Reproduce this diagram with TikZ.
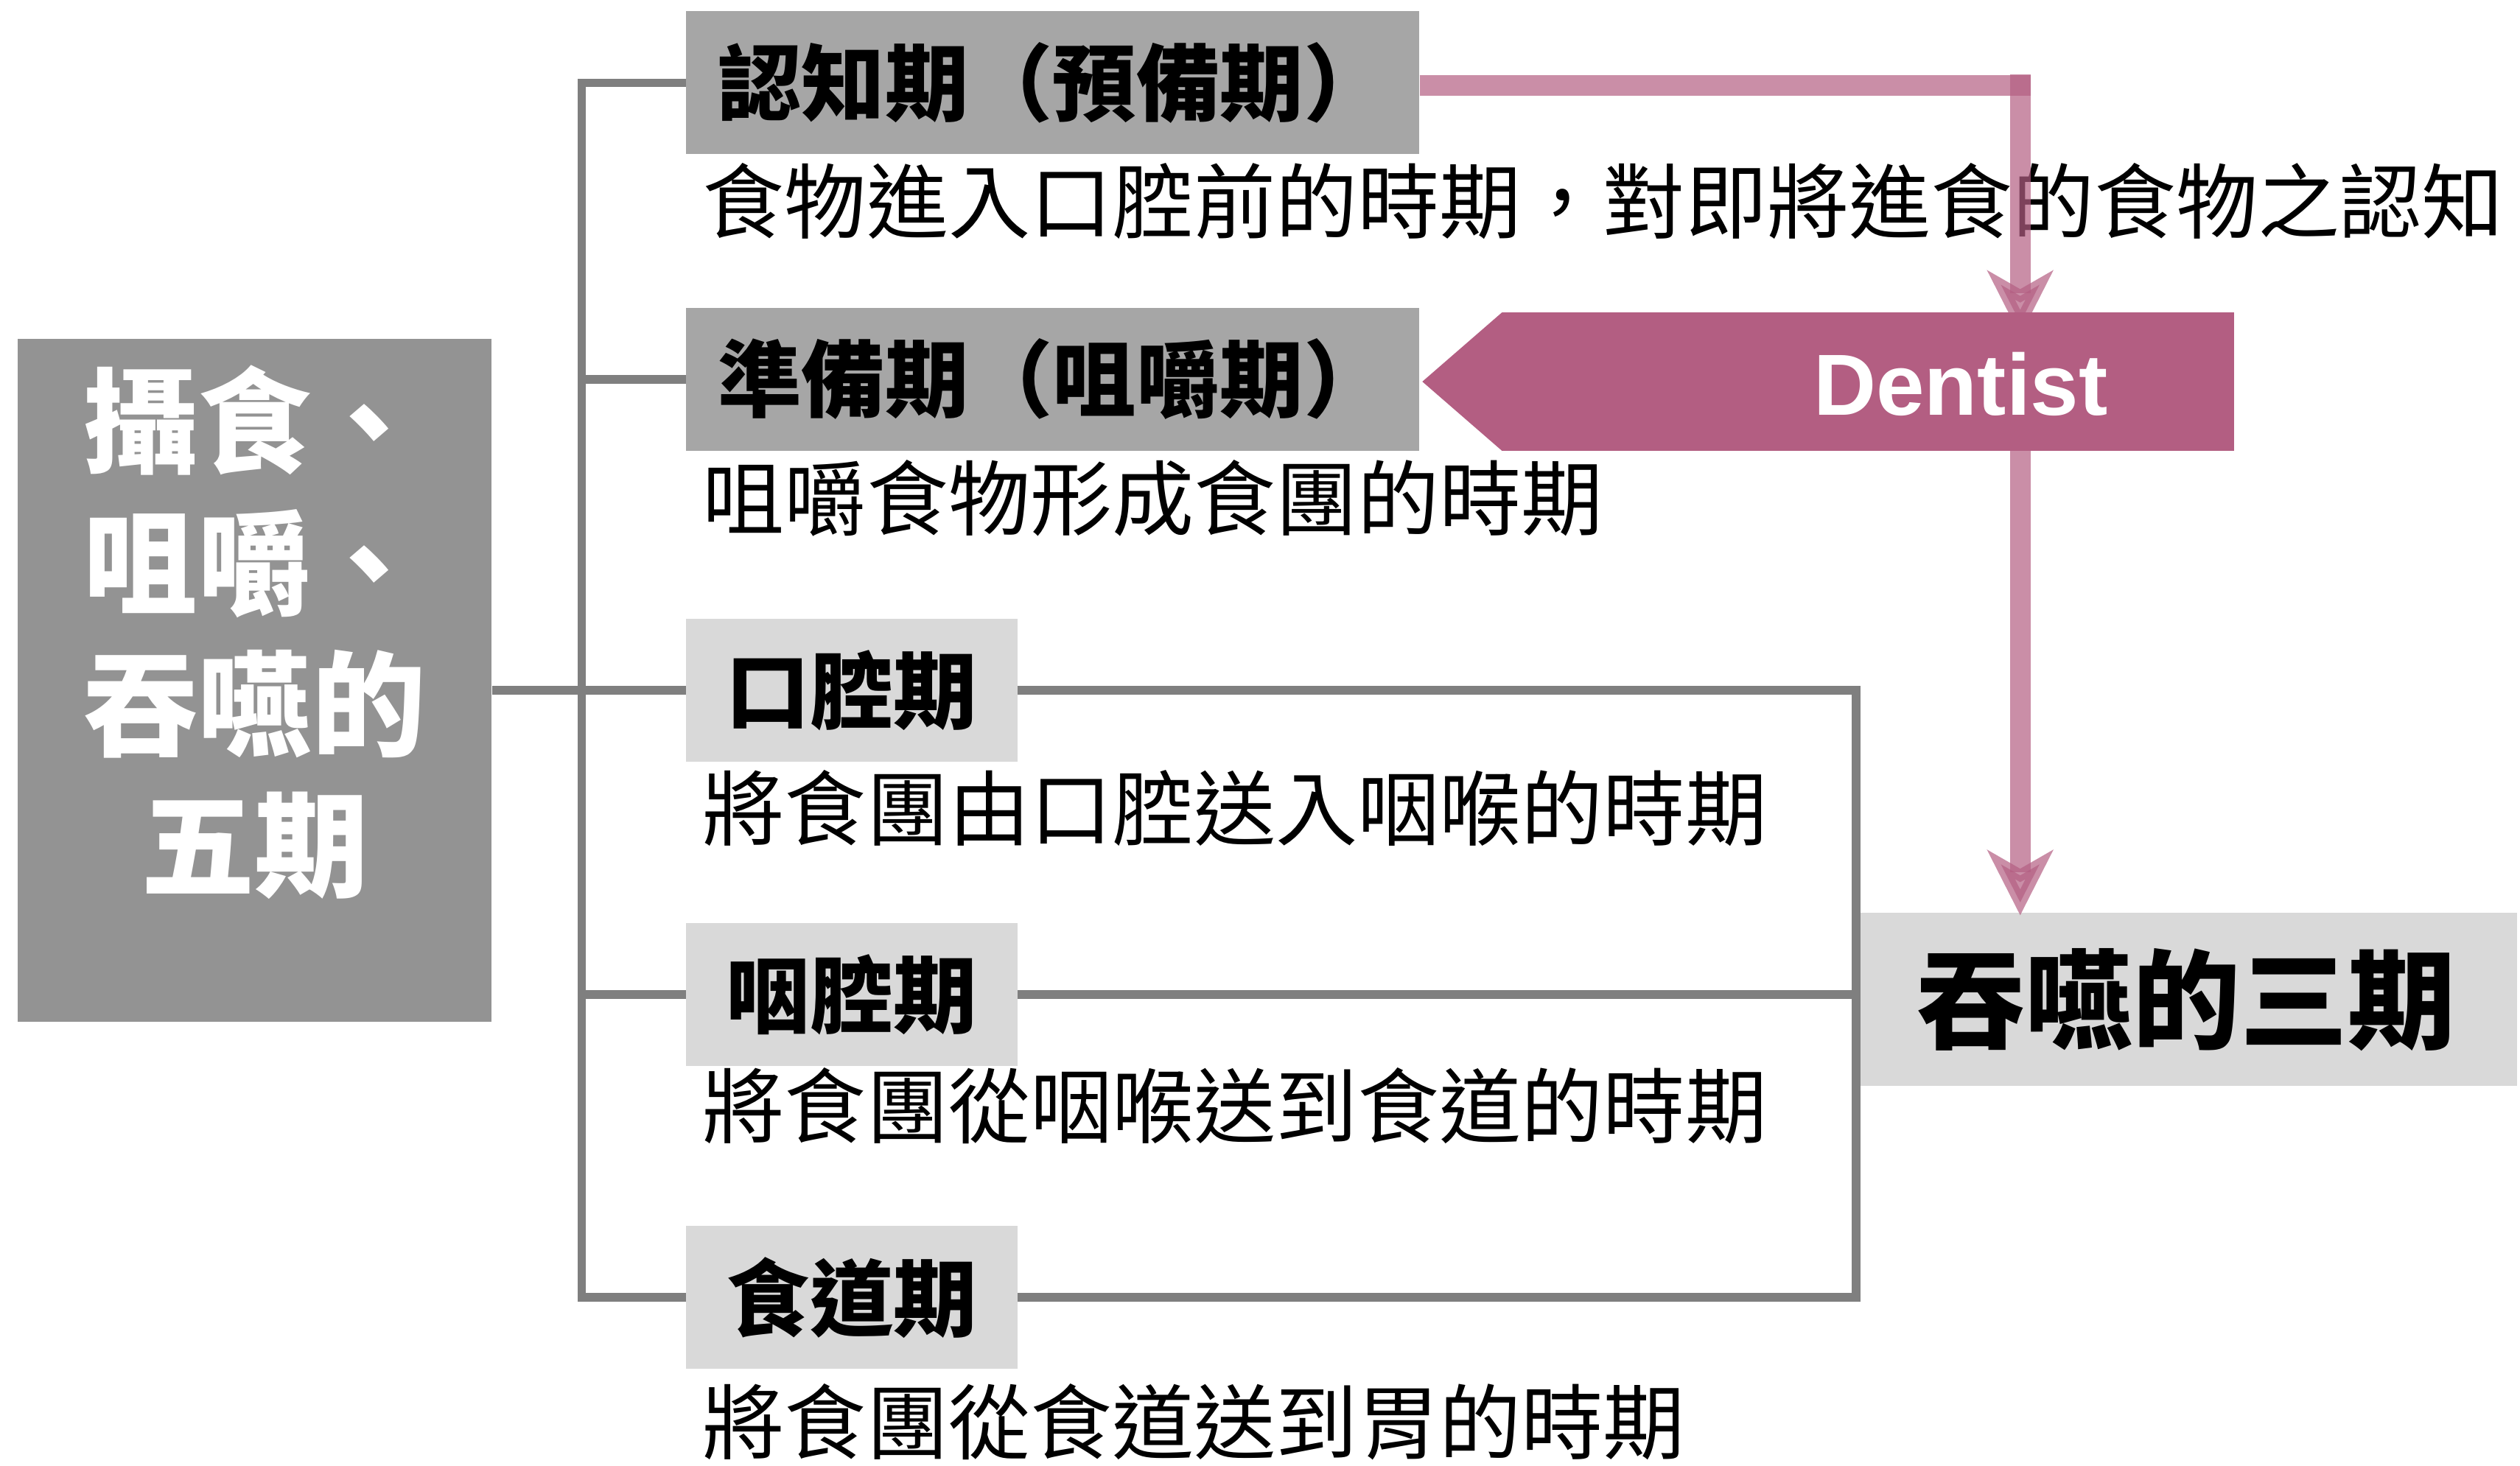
\documentclass[tikz,border=0pt]{standalone}
\usepackage{fontspec}
\usetikzlibrary{arrows.meta}
\newfontfamily\cjk{Noto Sans CJK TC}
\newfontfamily\lsans{Liberation Sans}
\definecolor{linegray}{HTML}{7F7F7F}
\definecolor{gA}{HTML}{A6A6A6}
\definecolor{gB}{HTML}{D9D9D9}
\definecolor{gL}{HTML}{939393}
\definecolor{pinkc}{HTML}{B35E82}
\def\pxu{0.021811cm}
\tikzset{
  gl/.style={draw=linegray, line width=3.3pt},
  pk/.style={draw=pinkc, draw opacity=0.7, fill opacity=0.7, line width=8pt},
  pktip/.style={-{Stealth[length=25pt, width=25pt, inset=7pt, fill=pinkc]}},
  lbl/.style={inner sep=0pt, font=\cjk\bfseries\fontsize{32.3}{36}\selectfont, text=black},
  boxdark/.style={lbl, fill=gA, minimum width=456*\pxu, minimum height=89*\pxu},
  boxlight/.style={lbl, fill=gB, minimum width=206*\pxu, minimum height=89*\pxu},
  desc/.style={anchor=west, inner sep=0pt, font=\cjk\fontsize{31.6}{36}\selectfont, text=black},
}
\begin{document}
\begin{tikzpicture}[x=\pxu, y=-\pxu]
\useasboundingbox (0,0) rectangle (1568,912);
% left main box
\node[fill=gL, minimum width=295*\pxu, minimum height=425*\pxu, inner sep=0pt] (left) at (158.5,423.5) {};
\node[inner sep=0pt, align=center, text=white, font=\cjk\bfseries\fontsize{44}{54.6}\selectfont] (lefttext) at (158.5,393.5) {攝食、\\咀嚼、\\吞嚥的\\五期};
% stage boxes
\node[boxdark] (b1) at (655,51.5) {認知期（預備期）};
\node[boxdark] (b2) at (655,236) {準備期（咀嚼期）};
\node[boxlight] (b3) at (530,429.5) {口腔期};
\node[boxlight] (b4) at (530,619) {咽腔期};
\node[boxlight] (b5) at (530,807.5) {食道期};
% descriptions
\node[desc] (d1) at (437,125) {食物進入口腔前的時期，對即將進食的食物之認知};
\node[desc] (d2) at (437,310) {咀嚼食物形成食團的時期};
\node[desc] (d3) at (437,503) {將食團由口腔送入咽喉的時期};
\node[desc] (d4) at (437,688) {將食團從咽喉送到食道的時期};
\node[desc] (d5) at (437,885) {將食團從食道送到胃的時期};
% three stages box
\node[lbl, fill=gB, minimum width=411*\pxu, minimum height=108*\pxu, font=\cjk\bfseries\fontsize{41.6}{46}\selectfont] (three) at (1360.5,622) {吞嚥的三期};
% gray connectors
\coordinate (sp) at (362,0);
\coordinate (rv) at (1155,0);
\draw[gl] (b1.west) -- (b1.west -| sp) -- (b5.west -| sp) -- (b5.west);
\draw[gl] (b2.west) -- (b2.west -| sp);
\draw[gl] (b4.west) -- (b4.west -| sp);
\draw[gl] (left.east |- b3.west) -- (b3.west);
\draw[gl] (b3.east) -- (b3.east -| rv) -- (b5.east -| rv) -- (b5.east);
\draw[gl] (b4.east) -- (b4.east -| rv);
% dentist pentagon
\coordinate (dtip) at (885,237.5);
\coordinate (dtl) at (934.5,194.5);
\coordinate (dtr) at (1390,194.5);
\coordinate (dbr) at (1390,280.5);
\coordinate (dbl) at (934.5,280.5);
\fill[pinkc] (dtip) -- (dtl) -- (dtr) -- (dbr) -- (dbl) -- cycle;
\node[inner sep=0pt, text=white, font=\lsans\bfseries\fontsize{33.5}{38}\selectfont] (dentist) at (1220,239) {Dentist};
% pink connectors
\coordinate (pkc) at (1257,53);
\coordinate (pkin) at (1257,209);
\coordinate (pkout) at (1257,276);
\draw[pk] (b1.east |- pkc) -- ([xshift=6.5*\pxu]pkc);
\draw[pk, pktip] ([yshift=6.5*\pxu]pkc) -- (pkin);
\draw[pk, pktip] (pkout) -- ([yshift=-2*\pxu]three.north -| pkc);
\end{tikzpicture}
\end{document}
